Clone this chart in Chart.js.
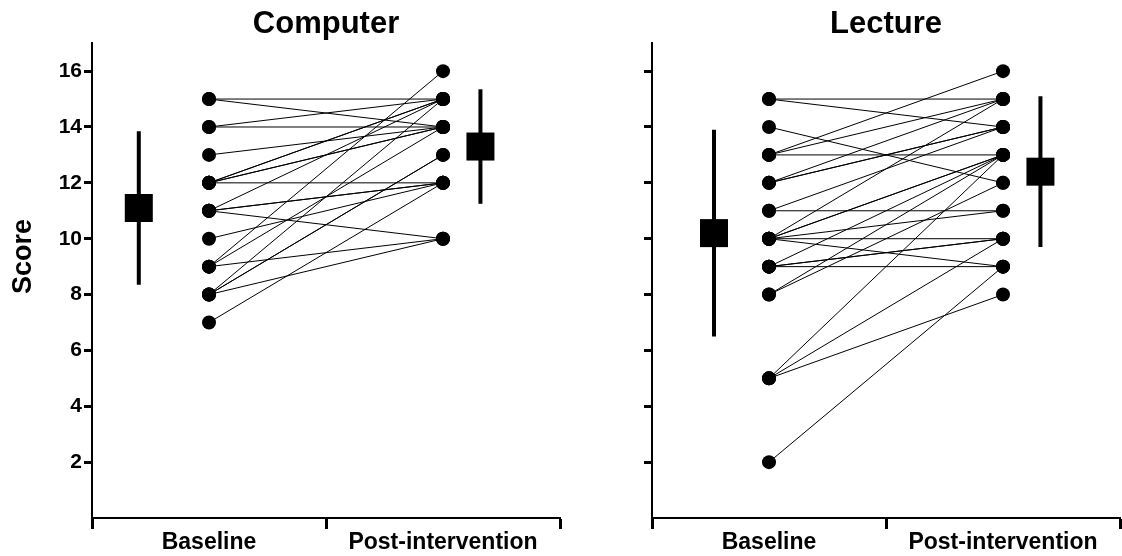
<!DOCTYPE html>
<html>
<head>
<meta charset="utf-8">
<script src="https://cdn.jsdelivr.net/npm/chart.js@4/dist/chart.umd.min.js"></script>
<style>
  html, body { margin: 0; padding: 0; background: #fff; }
  .panel { position: absolute; top: 0; width: 562px; height: 556px; }
  #left  { left: 0; }
  #right { left: 560px; }
</style>
</head>
<body>
<div class="panel" id="left"><canvas id="computerChart"></canvas></div>
<div class="panel" id="right"><canvas id="lectureChart"></canvas></div>
<script>
// categories and ticks
const categories = ['Baseline', 'Post-intervention'];
const yTicks = [2, 4, 6, 8, 10, 12, 14, 16];
const yTitle = 'Score';

// Computer group: one pair per participant
const computerBaseline = [15, 15, 14, 14, 13, 12, 12, 12, 12, 12, 11, 11, 11, 11, 10, 9, 9, 9, 8, 8, 8, 8, 7];
const computerPost     = [15, 14, 15, 14, 14, 15, 15, 14, 14, 12, 15, 12, 12, 10, 12, 16, 14, 10, 15, 13, 10, 13, 12];
const computerMean = [11.1, 13.3];
const computerSD   = [2.75, 2.05];

// Lecture group
const lectureBaseline = [15, 15, 14, 13, 13, 13, 12, 12, 12, 11, 11, 10, 10, 10, 10, 10, 10, 9, 9, 9, 9, 8, 8, 5, 5, 5, 2];
const lecturePost     = [15, 14, 12, 16, 15, 13, 15, 14, 14, 14, 11, 15, 13, 13, 11, 10, 9, 13, 10, 10, 9, 13, 12, 13, 10, 8, 9];
const lectureMean = [10.2, 12.4];
const lectureSD   = [3.7, 2.7];

const FONT = '"Liberation Sans", Arial, sans-serif';

// rotated y-axis title, drawn a bit above the chart-area middle like the original
const scoreTitle = {
    id: 'scoreTitle',
    afterDraw(chart, args, opts) {
        if (!opts.text) return;
        const { ctx, chartArea } = chart;
        ctx.save();
        ctx.translate(24, (chartArea.top + chartArea.bottom) / 2 - 24);
        ctx.rotate(-Math.PI / 2);
        ctx.font = 'bold 27px ' + FONT;
        ctx.fillStyle = '#000';
        ctx.textAlign = 'center';
        ctx.textBaseline = 'middle';
        ctx.fillText(opts.text, 0, 0);
        ctx.restore();
    }
};

function buildPanel(canvas, title, base, post, mean, sd, meanX, showYLabels) {
    const datasets = [];

    // individual pairs
    base.forEach((b, i) => {
        datasets.push({
            data: [{ x: 0.5, y: b }, { x: 1.5, y: post[i] }],
            showLine: true,
            borderColor: '#000',
            borderWidth: 1,
            pointRadius: 7,
            pointBackgroundColor: '#000',
            pointBorderWidth: 0
        });
    });

    // mean +/- SD bars
    mean.forEach((m, k) => {
        datasets.push({
            data: [{ x: meanX[k], y: m - sd[k] }, { x: meanX[k], y: m + sd[k] }],
            showLine: true,
            borderColor: '#000',
            borderWidth: 4,
            borderCapStyle: 'butt',
            pointRadius: 0
        });
    });

    datasets.push({
        data: mean.map((m, k) => ({ x: meanX[k], y: m })),
        pointStyle: 'rect',
        pointRadius: 19.8,
        pointBackgroundColor: '#000',
        pointBorderWidth: 0
    });

    return new Chart(canvas.getContext('2d'), {
        type: 'scatter',
        data: { datasets },
        plugins: [scoreTitle],
        options: {
            responsive: true,
            maintainAspectRatio: false,
            animation: false,
            clip: false,
            layout: { autoPadding: false, padding: { top: 0, right: 2, left: 0, bottom: 0 } },
            plugins: {
                legend: { display: false },
                tooltip: { enabled: false },
                scoreTitle: { text: showYLabels ? yTitle : '' },
                title: {
                    display: true,
                    text: title,
                    fullSize: false,
                    color: '#000',
                    font: { family: FONT, size: 31, weight: 'bold' },
                    padding: { top: 6, bottom: 0 }
                }
            },
            scales: {
                x: {
                    type: 'linear',
                    min: 0,
                    max: 2,
                    afterBuildTicks: axis => {
                        axis.ticks = [0, 0.5, 1, 1.5, 2].map(v => ({ value: v }));
                    },
                    afterFit: axis => { axis.height = 38; },
                    border: { display: true, color: '#000', width: 2 },
                    grid: {
                        drawOnChartArea: false,
                        drawTicks: true,
                        tickLength: 11,
                        tickWidth: 3,
                        tickColor: ctx => Number.isInteger(ctx.tick.value) ? '#000' : 'rgba(0,0,0,0)'
                    },
                    ticks: {
                        color: '#000',
                        padding: 0,
                        autoSkip: false,
                        maxRotation: 0,
                        font: { family: FONT, size: 23, weight: 'bold' },
                        callback: val => val === 0.5 ? categories[0] : (val === 1.5 ? categories[1] : '')
                    }
                },
                y: {
                    min: 0,
                    max: 17,
                    afterBuildTicks: axis => {
                        axis.ticks = yTicks.map(v => ({ value: v }));
                    },
                    afterFit: axis => { axis.width = 92; },
                    border: { display: true, color: '#000', width: 2 },
                    grid: {
                        drawOnChartArea: false,
                        drawTicks: true,
                        tickLength: 8,
                        tickWidth: 3,
                        tickColor: '#000'
                    },
                    ticks: {
                        color: '#000',
                        padding: 2,
                        autoSkip: false,
                        font: { family: FONT, size: 21, weight: 'bold' },
                        callback: val => showYLabels ? val : ''
                    }
                }
            }
        }
    });
}

buildPanel(document.getElementById('computerChart'), 'Computer',
    computerBaseline, computerPost, computerMean, computerSD, [0.2, 1.66], true);
buildPanel(document.getElementById('lectureChart'), 'Lecture',
    lectureBaseline, lecturePost, lectureMean, lectureSD, [0.265, 1.66], false);
</script>
</body>
</html>
